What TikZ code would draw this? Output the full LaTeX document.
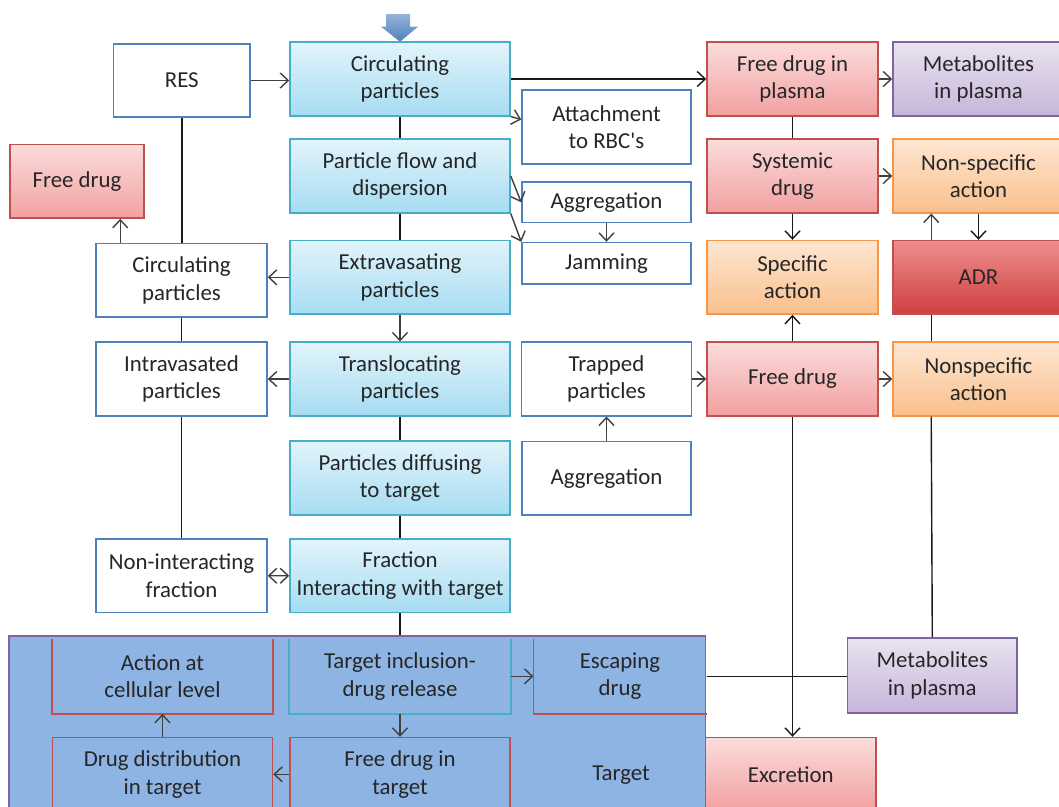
\documentclass[tikz,border=0pt]{standalone}
\usepackage{fontspec}
\setmainfont{Carlito}
\usetikzlibrary{arrows.meta}

\definecolor{boxblue}{HTML}{4F81BD}
\definecolor{boxcyan}{HTML}{4BACC6}
\definecolor{cyantop}{HTML}{E2F4FB}
\definecolor{cyanbot}{HTML}{A6DCF2}
\definecolor{boxred}{HTML}{C0504D}
\definecolor{redtop}{HTML}{FBDCDC}
\definecolor{redbot}{HTML}{F2A0A0}
\definecolor{adrtop}{HTML}{EE8E8E}
\definecolor{adrbot}{HTML}{CF3F3F}
\definecolor{boxpurple}{HTML}{8064A2}
\definecolor{purptop}{HTML}{E9E3F0}
\definecolor{purpbot}{HTML}{C6B5DA}
\definecolor{boxorange}{HTML}{F79646}
\definecolor{orgtop}{HTML}{FDE6D2}
\definecolor{orgbot}{HTML}{FAC08C}
\definecolor{targetfill}{HTML}{8EB4E3}
\definecolor{arrgray}{HTML}{404040}
\definecolor{txtgray}{HTML}{262626}

\begin{document}
\begin{tikzpicture}[x=0.02cm,y=-0.02cm,>={Straight Barb[length=1.6mm,width=3mm]},
  box/.style={rectangle,minimum height=1.47cm,inner sep=1pt,line width=0.9pt},
  bluebox/.style={box,draw=boxblue,fill=white,minimum width=3.42cm},
  cyanbox/.style={box,draw=boxcyan,top color=cyantop,bottom color=cyanbot,minimum width=4.4cm},
  redbox/.style={box,draw=boxred,top color=redtop,bottom color=redbot,minimum width=3.42cm},
  adrbox/.style={box,draw=boxred,top color=adrtop,bottom color=adrbot,minimum width=3.42cm},
  purplebox/.style={box,draw=boxpurple,top color=purptop,bottom color=purpbot,minimum width=3.42cm},
  orangebox/.style={box,draw=boxorange,top color=orgtop,bottom color=orgbot,minimum width=3.42cm},
  innerbox/.style={box,minimum width=4.4cm},
  ln/.style={draw=black!90,line width=0.8pt},
  arr/.style={->,draw=arrgray,line width=0.8pt}]
  \tikzstyle{every node}=[font=\fontsize{13}{15.7}\selectfont,text=txtgray,align=center]
  \useasboundingbox (0,0) rectangle (1059,806);
  \clip (0,0) rectangle (1059,806);

  % target area
  \draw (357.35,732.85) node(target) [rectangle,draw=boxpurple,fill=targetfill,line width=0.9pt,
           minimum width=13.934cm,minimum height=3.886cm,inner sep=0] {}
        (621,775) node(tgtlabel) {Target};

  % input arrow
  \draw[top color=boxblue!60,bottom color=boxblue,draw=none]
    (386,14) -- (410,14) -- (410,26.7) -- (418,26.7) -- (400,41.7) -- (381,26.7) -- (386,26.7) -- cycle;

  % main column
  \draw (400,79) node(circ) [cyanbox] {Circulating\\particles}
        (400,176) node(flow) [cyanbox] {Particle flow and\\dispersion}
        (400,277.3) node(extrav) [cyanbox] {Extravasating\\particles}
        (400,379) node(transloc) [cyanbox] {Translocating\\particles}
        (400,478) node(diffuse) [cyanbox] {Particles diffusing\\to target}
        (400,575.7) node(fraction) [cyanbox] {Fraction\\Interacting with target};

  % left column
  \draw (181.8,80.5) node(res) [bluebox,minimum width=2.73cm] {RES}
        (77,181.3) node(fdleft) [redbox,minimum width=2.69cm] {Free drug}
        (181.5,280.2) node(lcirc) [bluebox] {Circulating\\particles}
        (181.5,379) node(intra) [bluebox] {Intravasated\\particles}
        (181.5,575.8) node(nonint) [bluebox] {Non-interacting\\fraction};

  % third column
  \draw (606.5,127) node(attach) [bluebox,minimum width=3.38cm] {Attachment\\to RBC\textquotesingle s}
        (606.5,202.3) node(agg) [bluebox,minimum width=3.38cm,minimum height=0.81cm] {Aggregation}
        (606.5,263.3) node(jam) [bluebox,minimum width=3.38cm,minimum height=0.83cm] {Jamming}
        (606.5,379) node(trapped) [bluebox,minimum width=3.4cm] {Trapped\\particles}
        (606.5,478.3) node(aggtwo) [bluebox,minimum width=3.38cm] {Aggregation};

  % fourth and fifth columns
  \draw (792.5,79) node(fdplasma) [redbox] {Free drug in\\plasma}
        (792.5,176) node(systemic) [redbox] {Systemic\\drug}
        (792.5,277.3) node(specific) [orangebox] {Specific\\action}
        (792.5,379) node(fdrug) [redbox] {Free drug}
        (790.8,774.3) node(excr) [redbox] {Excretion}
        (978.5,79) node(metab) [purplebox] {Metabolites\\in plasma}
        (978.5,176) node(nonspec) [orangebox] {Non-specific\\action}
        (978.5,277.3) node(adr) [adrbox] {ADR}
        (978.5,379) node(nonspectwo) [orangebox] {Nonspecific\\action}
        (932.3,675.5) node(metabtwo) [purplebox,minimum width=3.39cm,minimum height=1.51cm] {Metabolites\\in plasma};

  % inside target
  \draw (162.5,676.3) node(action) [innerbox] {Action at\\cellular level}
        (400,676.3) node(tincl) [innerbox] {Target inclusion-\\drug release}
        (620,676.3) node(escape) [innerbox,minimum width=3.43cm] {Escaping\\drug}
        (162.5,774.3) node(distr) [innerbox,draw=boxred] {Drug distribution\\in target}
        (400,774.3) node(fdtarget) [innerbox,draw=boxred] {Free drug in\\target};
  \draw[boxred,line width=0.9pt] (action.north west) -- (action.south west) -- (action.south east) -- (action.north east);
  \draw[boxcyan,line width=0.9pt] (tincl.north west) -- (tincl.south west) -- (tincl.south east) -- (tincl.north east);
  \draw[boxred,line width=0.9pt] (escape.north west) -- (escape.south west) -- (escape.south east);

  % main column links
  \draw[ln] (circ) to (flow);
  \draw[ln] (flow) to (extrav);
  \draw[arr] (extrav) to (transloc);
  \draw[ln] (transloc) to (diffuse);
  \draw[ln] (diffuse) to (fraction);
  \draw[ln] (fraction.south) -- (fraction.south |- target.north);
  \draw[arr] (tincl) to (fdtarget);
  \draw[arr] (fdtarget) to (distr);
  \draw[arr] (distr) to (action);
  \draw[arr] (tincl) to (escape);
  \draw[ln] (escape.east) -- (escape.east -| metabtwo.west);

  % left column links
  \draw[arr] (res.east) -- (res.east -| circ.west);
  \draw[ln] (res.south) -- (res.south |- lcirc.north);
  \draw[ln] (lcirc) to (intra);
  \draw[ln] (intra) to (nonint);
  \draw[arr] ([xshift=0.5cm]lcirc.north west) -- ([xshift=0.5cm]lcirc.north west |- fdleft.south);
  \draw[arr] (extrav.west) -- (extrav.west -| lcirc.east);
  \draw[arr] (transloc) to (intra);
  \draw[arr,<->] (fraction) to (nonint);

  % third column links
  \draw[arr] (circ.south east) -- (attach.175);
  \draw[arr] (flow.east) -- (agg.west);
  \draw[arr] (flow.south east) -- (jam.north west);
  \draw[arr] (agg) to (jam);
  \draw[arr] (aggtwo) to (trapped);
  \draw[arr] (trapped) to (fdrug);

  % drug side links
  \draw[arr,draw=black!90] (circ) to (fdplasma);
  \draw[arr] (fdplasma) to (metab);
  \draw[ln] (fdplasma) to (systemic);
  \draw[arr,draw=black!90] (systemic) to (specific);
  \draw[arr] (systemic) to (nonspec);
  \draw[arr] ([xshift=0.78cm]adr.north west) -- ([xshift=0.78cm]nonspec.south west);
  \draw[arr,draw=black!90] (nonspec) to (adr);
  \draw[ln] ([xshift=0.78cm]adr.south west) -- ([xshift=0.78cm]nonspectwo.north west);
  \draw[ln] ([xshift=0.78cm]nonspectwo.south west) -- (metabtwo.north);
  \draw[arr,draw=black!90] (fdrug) to (specific);
  \draw[arr] (fdrug) to (nonspectwo);
  \draw[arr,draw=black!90] (fdrug.south) -- (fdrug.south |- excr.north);
\end{tikzpicture}
\end{document}
